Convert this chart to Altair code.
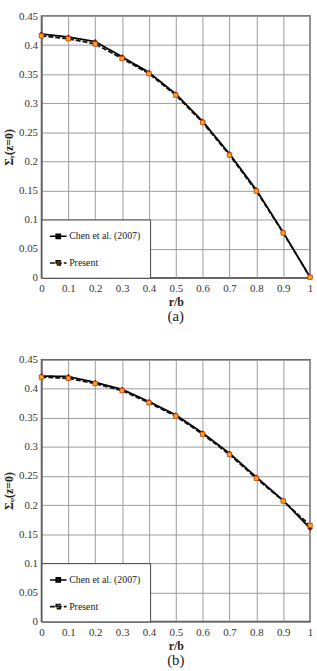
import altair as alt
import pandas as pd

r = [0.0, 0.1, 0.2, 0.3, 0.4, 0.5, 0.6, 0.7, 0.8, 0.9, 1.0]
series_names = ["Chen et al. (2007)", "Present"]

chen_a = [0.419, 0.414, 0.406, 0.380, 0.353, 0.316, 0.269, 0.213, 0.151, 0.078, 0.001]
present_a = [0.416, 0.411, 0.402, 0.377, 0.351, 0.314, 0.267, 0.211, 0.149, 0.077, 0.001]
chen_b = [0.422, 0.421, 0.411, 0.399, 0.378, 0.355, 0.324, 0.289, 0.248, 0.208, 0.160]
present_b = [0.420, 0.418, 0.409, 0.397, 0.376, 0.353, 0.322, 0.287, 0.246, 0.207, 0.165]

y_ticks = [0, 0.05, 0.1, 0.15, 0.2, 0.25, 0.3, 0.35, 0.4, 0.45]

SERIF = "'Liberation Serif', 'Times New Roman', serif"
W, H = 272, 265
stroke_scale = alt.Scale(domain=series_names, range=["#000000", "#111111"])
dash_scale = alt.Scale(domain=series_names, range=[[1, 0], [5, 2]])
fill_scale = alt.Scale(domain=series_names, range=["#7a1212", "#ffa21f"])


def panel(chen, present, ytitle, caption):
    df = pd.DataFrame({
        "r": r + r,
        "v": chen + present,
        "s": [series_names[0]] * len(r) + [series_names[1]] * len(r),
    })
    x = alt.X("r:Q", scale=alt.Scale(domain=[0, 1], nice=False),
              axis=alt.Axis(values=r, format="~g", title="r/b"))
    y = alt.Y("v:Q", scale=alt.Scale(domain=[0, 0.45], nice=False),
              axis=alt.Axis(values=y_ticks, format="~g", title=ytitle))
    base = alt.Chart(df)
    lines = base.mark_line(strokeWidth=1.8).encode(
        x=x, y=y,
        stroke=alt.Stroke("s:N", scale=stroke_scale,
                          legend=alt.Legend(
                              title=None, orient="none", legendX=0, legendY=206,
                              fillColor="white", strokeColor="#444444", padding=9,
                              rowPadding=13, labelFont=SERIF, labelFontSize=10,
                              labelColor="#222222", labelOffset=3,
                              symbolType="M-1.2,0H1.2M-0.3,-0.3H0.3V0.3H-0.3Z",
                              symbolSize=196, symbolStrokeWidth=1.6)),
        strokeDash=alt.StrokeDash("s:N", scale=dash_scale),
    )
    chen_pts = base.transform_filter(alt.datum.s == series_names[0]).mark_point(
        filled=True, size=22, shape="diamond", strokeWidth=0.6, stroke="#5a0a0a", opacity=1
    ).encode(x=x, y=y, fill=alt.Fill("s:N", scale=fill_scale))
    pres_pts = base.transform_filter(alt.datum.s == series_names[1]).mark_point(
        filled=True, size=20, shape="square", strokeWidth=0.8, stroke="#c0400a", opacity=1
    ).encode(x=x, y=y, fill=alt.Fill("s:N", scale=fill_scale))
    return alt.layer(lines, chen_pts, pres_pts).properties(
        width=W, height=H,
        title=alt.TitleParams(caption, orient="bottom", font=SERIF, fontSize=15,
                              fontWeight="normal", color="#222222", offset=2),
    )


top = panel(chen_a, present_a, "Σᵣ(z=0)", "(a)")
bottom = panel(chen_b, present_b, "Σᵩ(z=0)", "(b)")

chart = alt.vconcat(top, bottom, spacing=28).resolve_scale(
    stroke="independent", strokeDash="independent", fill="independent"
).resolve_legend(
    stroke="independent", strokeDash="independent", fill="independent"
).configure_view(
    stroke="#555555", strokeWidth=1.5
).configure_axis(
    grid=True, gridColor="#9a9a9a", gridWidth=1,
    domainColor="#555555", ticks=False, tickSize=0,
    labelFont=SERIF, labelFontSize=11, labelColor="#333333",
    titleFont=SERIF, titleFontSize=12, titleFontWeight="bold", titleColor="#222222",
    labelFlush=False,
).configure_axisX(labelPadding=5, titlePadding=3).configure_axisY(
    labelPadding=4, titlePadding=3
).properties(
    padding={"left": 2, "top": 5, "right": 2, "bottom": 1}
)

chart.save("out.html", embed_options={"renderer": "svg", "actions": False})
